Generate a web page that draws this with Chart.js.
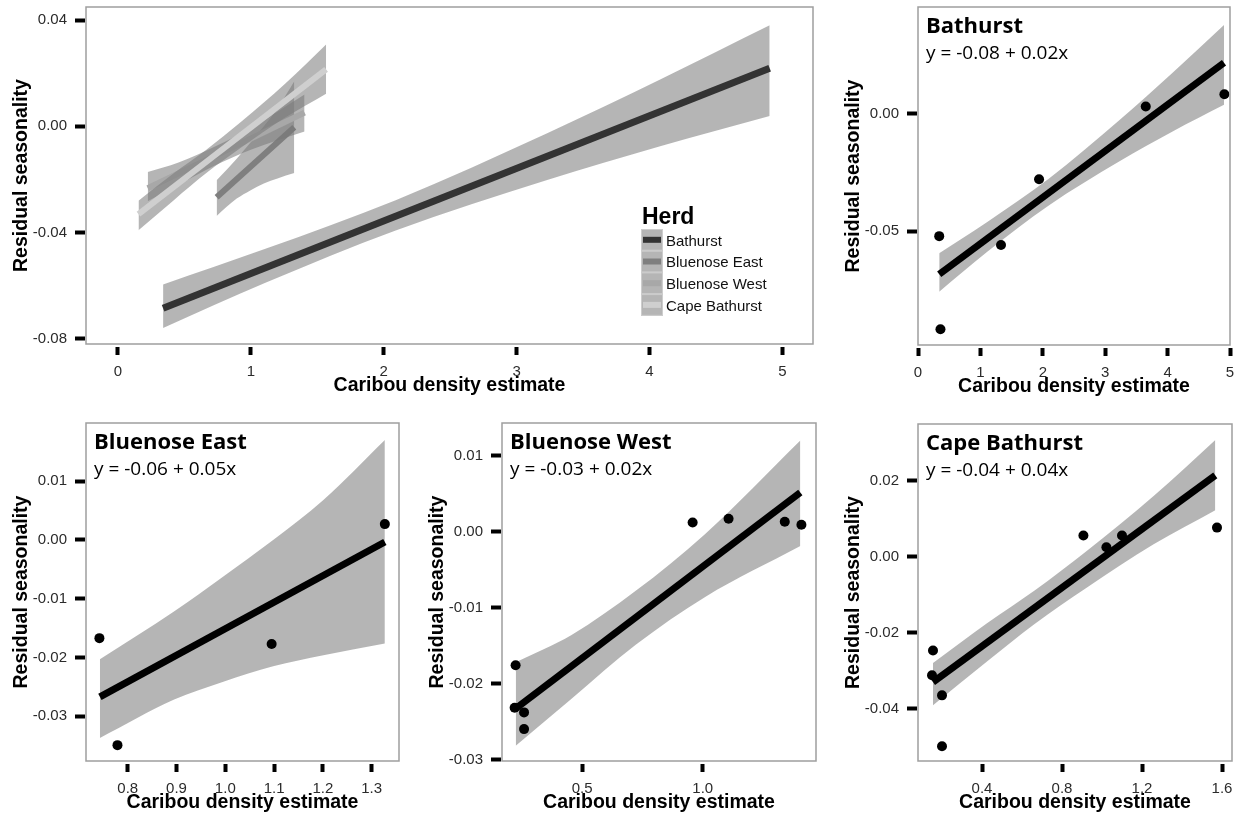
<!DOCTYPE html>
<html>
<head>
<meta charset="utf-8">
<title>Residual seasonality vs caribou density</title>
<script src="https://cdn.jsdelivr.net/npm/chart.js@4.4.1/dist/chart.umd.min.js"></script>
<style>
  html, body { margin: 0; padding: 0; background: #fff; overflow: hidden; }
  #page { position: relative; width: 1239px; height: 814px; }
  #page canvas { position: absolute; }
</style>
</head>
<body>
<div id="page"></div>
<script>
// Herds, in the order used for the legend and the small panels
const herds = ['Bathurst', 'Bluenose East', 'Bluenose West', 'Cape Bathurst'];

// Fitted regressions (y = intercept + slope * x) and the density range each one covers
const intercepts = [-0.0752, -0.0602, -0.0287, -0.0390];
const slopes = [0.0198, 0.0451, 0.0241, 0.0386];
const fitFrom = [0.34, 0.743, 0.2245, 0.155];
const fitTo = [4.904, 1.327, 1.4045, 1.5665];

// Confidence band edges
const bathurstBandX = [0.34, 1.11, 2.09, 3.23, 4.08, 4.904];
const bathurstUpper = [-0.0595, -0.0461, -0.0278, -0.0026, 0.0176, 0.0380];
const bathurstLower = [-0.0759, -0.0589, -0.0392, -0.0202, -0.0075, 0.0039];
const eastBandX = [0.743, 0.894, 0.996, 1.098, 1.201, 1.327];
const eastUpper = [-0.0203, -0.0122, -0.0062, 0.0000, 0.0068, 0.0170];
const eastLower = [-0.0337, -0.0272, -0.0241, -0.0215, -0.0196, -0.0176];
const westBandX = [0.2245, 0.456, 0.722, 1.010, 1.4045];
const westUpper = [-0.0172, -0.0136, -0.0078, -0.0003, 0.0120];
const westLower = [-0.0282, -0.0220, -0.0149, -0.0086, -0.0019];
const capeBandX = [0.155, 0.425, 0.663, 0.925, 1.258, 1.5665];
const capeUpper = [-0.0280, -0.0175, -0.0089, 0.0016, 0.0160, 0.0308];
const capeLower = [-0.0391, -0.0276, -0.0177, -0.0081, 0.0033, 0.0123];

// Observed density / residual seasonality pairs
const bathurstX = [0.34, 0.36, 1.33, 1.94, 3.65, 4.91];
const bathurstY = [-0.0522, -0.0920, -0.0560, -0.0279, 0.0032, 0.0084];
const eastX = [0.742, 0.779, 1.095, 1.327];
const eastY = [-0.0167, -0.0349, -0.0177, 0.0027];
const westX = [0.224, 0.220, 0.259, 0.259, 0.958, 1.107, 1.340, 1.409];
const westY = [-0.0176, -0.0232, -0.0238, -0.0260, 0.0012, 0.0017, 0.0013, 0.0009];
const capeX = [0.155, 0.150, 0.200, 0.200, 0.907, 1.022, 1.100, 1.575];
const capeY = [-0.0247, -0.0312, -0.0365, -0.0499, 0.0056, 0.0025, 0.0056, 0.0077];

// Axis ranges and tick values
const overviewXRange = [-0.24, 5.23];
const overviewYRange = [-0.0819, 0.0449];
const overviewXTicks = [0, 1, 2, 3, 4, 5];
const overviewYTicks = [-0.08, -0.04, 0, 0.04];
const herdXRange = [[0, 5], [0.7145, 1.356], [0.1676, 1.4695], [0.08, 1.65]];
const herdYRange = [[-0.0987, 0.0457], [-0.0376, 0.0199], [-0.0302, 0.0143], [-0.0538, 0.035]];
const herdXTicks = [[0, 1, 2, 3, 4, 5], [0.8, 0.9, 1.0, 1.1, 1.2, 1.3], [0.5, 1.0], [0.4, 0.8, 1.2, 1.6]];
const herdYTicks = [[-0.05, 0], [-0.03, -0.02, -0.01, 0, 0.01], [-0.03, -0.02, -0.01, 0, 0.01], [-0.04, -0.02, 0, 0.02]];
const herdXDigits = [0, 1, 1, 1];

const bandX = [bathurstBandX, eastBandX, westBandX, capeBandX];
const bandUpper = [bathurstUpper, eastUpper, westUpper, capeUpper];
const bandLower = [bathurstLower, eastLower, westLower, capeLower];
const obsX = [bathurstX, eastX, westX, capeX];
const obsY = [bathurstY, eastY, westY, capeY];

// Styling
const AXIS_FONT = '"Liberation Sans", Arial, sans-serif';
const NOTE_FONT = '"Open Sans", "Noto Sans", sans-serif';
const RIBBON = 'rgba(120,120,120,0.55)';
const herdColors = ['#333333', '#7f7f7f', '#a8a8a8', '#cfcfcf'];
const Y_AXIS_W = 76, X_AXIS_H = 53, PAD_TOP = 6, PAD_RIGHT = 16;

// Plot frames on the page: left, top, right, bottom
const overviewFrame = {l: 86, t: 7, r: 813, b: 344};
const herdFrames = [
  {l: 918, t: 7, r: 1230, b: 345},
  {l: 86, t: 423, r: 399, b: 761},
  {l: 502, t: 423, r: 816, b: 761},
  {l: 918, t: 424, r: 1232, b: 761}
];

const page = document.getElementById('page');

function axis(pos, range, ticks, digits, title) {
  return {
    type: 'linear',
    position: pos,
    min: range[0],
    max: range[1],
    afterBuildTicks: s => { s.ticks = ticks.map(v => ({value: v})); },
    afterFit: s => {
      if (pos === 'left') s.width = Y_AXIS_W; else s.height = X_AXIS_H;
      s.paddingTop = s.paddingBottom = s.paddingLeft = s.paddingRight = 0;
    },
    border: {display: false},
    grid: {
      drawOnChartArea: false,
      drawTicks: true,
      tickLength: 11,
      tickWidth: 4,
      tickColor: '#000',
      // leave a small gap between the tick marks and the panel frame
      tickBorderDash: pos === 'left' ? [10, 40] : [0, 3, 8, 40]
    },
    ticks: {
      autoSkip: false,
      maxRotation: 0,
      padding: 8,
      color: '#2b2b2b',
      font: {family: AXIS_FONT, size: 15},
      callback: v => Number(v).toFixed(digits)
    },
    title: {
      display: true,
      text: title,
      color: '#000',
      padding: 0,
      font: {family: AXIS_FONT, size: 19.5, weight: 'bold'}
    }
  };
}

const framePlugin = {
  id: 'frame',
  afterDatasetsDraw(chart) {
    const {ctx, chartArea: a} = chart;
    ctx.save();
    ctx.strokeStyle = '#9e9e9e';
    ctx.lineWidth = 1.5;
    ctx.strokeRect(a.left, a.top, a.right - a.left, a.bottom - a.top);
    ctx.restore();
  }
};

function band(i, color) {
  const up = bandX[i].map((x, k) => ({x, y: bandUpper[i][k]}));
  const lo = bandX[i].map((x, k) => ({x, y: bandLower[i][k]}));
  const common = {borderWidth: 0, borderColor: 'rgba(0,0,0,0)', pointRadius: 0, cubicInterpolationMode: 'monotone'};
  return [
    Object.assign({data: up, fill: '+1', backgroundColor: color}, common),
    Object.assign({data: lo, fill: false}, common)
  ];
}

function fitLine(i, color, width) {
  return {
    data: [fitFrom[i], fitTo[i]].map(x => ({x, y: intercepts[i] + slopes[i] * x})),
    borderColor: color,
    borderWidth: width,
    borderCapStyle: 'butt',
    pointRadius: 0,
    fill: false
  };
}

function observations(i) {
  return {
    data: obsX[i].map((x, k) => ({x, y: obsY[i][k]})),
    showLine: false,
    pointRadius: 5,
    pointBackgroundColor: '#000',
    pointBorderWidth: 0,
    borderColor: 'rgba(0,0,0,0)',
    fill: false
  };
}

function addPanel(frame, datasets, scales, plugins) {
  const c = document.createElement('canvas');
  const w = frame.r - frame.l + Y_AXIS_W + PAD_RIGHT;
  const h = frame.b - frame.t + PAD_TOP + X_AXIS_H;
  c.width = w; c.height = h;
  c.style.width = w + 'px'; c.style.height = h + 'px';
  c.style.left = (frame.l - Y_AXIS_W) + 'px';
  c.style.top = (frame.t - PAD_TOP) + 'px';
  page.appendChild(c);
  // first dataset in the list is painted first (at the bottom)
  datasets.forEach((d, i) => { d.order = datasets.length - i; });
  return new Chart(c, {
    type: 'line',
    data: {datasets},
    options: {
      responsive: false,
      animation: false,
      events: [],
      devicePixelRatio: 1,
      layout: {padding: {top: PAD_TOP, right: PAD_RIGHT, left: 0, bottom: 0}},
      plugins: {legend: {display: false}, tooltip: {enabled: false}},
      scales
    },
    plugins: [framePlugin].concat(plugins)
  });
}

// Legend of the overview panel
const herdLegend = {
  id: 'herdLegend',
  afterDatasetsDraw(chart) {
    const {ctx, chartArea: a} = chart;
    const x = a.left + 555, top = a.top + 222;
    ctx.save();
    ctx.fillStyle = '#000';
    ctx.font = 'bold 23px ' + AXIS_FONT;
    ctx.textBaseline = 'alphabetic';
    ctx.fillText('Herd', x + 1, a.top + 217);
    herds.forEach((name, i) => {
      const ky = top + i * 21.7;
      ctx.fillStyle = '#fff';
      ctx.fillRect(x, ky, 22, 21.7);
      ctx.fillStyle = RIBBON;
      ctx.fillRect(x, ky, 22, 21.7);
      ctx.strokeStyle = '#cdcdcd';
      ctx.lineWidth = 1;
      ctx.strokeRect(x + 0.5, ky + 0.5, 21, 20.7);
      ctx.strokeStyle = herdColors[i];
      ctx.lineWidth = 6;
      ctx.beginPath();
      ctx.moveTo(x + 2, ky + 10.8);
      ctx.lineTo(x + 20, ky + 10.8);
      ctx.stroke();
      ctx.fillStyle = '#111';
      ctx.font = '15px ' + AXIS_FONT;
      ctx.fillText(name, x + 25, ky + 16.5);
    });
    ctx.restore();
  }
};

// Herd name and fitted equation in each small panel
function notePlugin(i) {
  return {
    id: 'note',
    afterDatasetsDraw(chart) {
      const {ctx, chartArea: a} = chart;
      const eq = 'y = ' + intercepts[i].toFixed(2) + ' + ' + slopes[i].toFixed(2) + 'x';
      ctx.save();
      ctx.fillStyle = '#000';
      ctx.textBaseline = 'alphabetic';
      ctx.font = 'bold 22px ' + NOTE_FONT;
      ctx.fillText(herds[i], a.left + 8, a.top + 26);
      ctx.font = '19px ' + NOTE_FONT;
      ctx.fillText(eq, a.left + 8, a.top + 52);
      ctx.restore();
    }
  };
}

// Overview: all herds on one density axis
const overviewSets = [];
herds.forEach((h, i) => {
  overviewSets.push(...band(i, RIBBON));
  overviewSets.push(fitLine(i, herdColors[i], i === 0 ? 7 : 6));
});
addPanel(overviewFrame, overviewSets, {
  x: axis('bottom', overviewXRange, overviewXTicks, 0, 'Caribou density estimate'),
  y: axis('left', overviewYRange, overviewYTicks, 2, 'Residual seasonality')
}, [herdLegend]);

// One panel per herd with its observations
herds.forEach((h, i) => {
  const sets = [...band(i, RIBBON), fitLine(i, '#000', 7), observations(i)];
  addPanel(herdFrames[i], sets, {
    x: axis('bottom', herdXRange[i], herdXTicks[i], herdXDigits[i], 'Caribou density estimate'),
    y: axis('left', herdYRange[i], herdYTicks[i], 2, 'Residual seasonality')
  }, [notePlugin(i)]);
});
</script>
</body>
</html>
